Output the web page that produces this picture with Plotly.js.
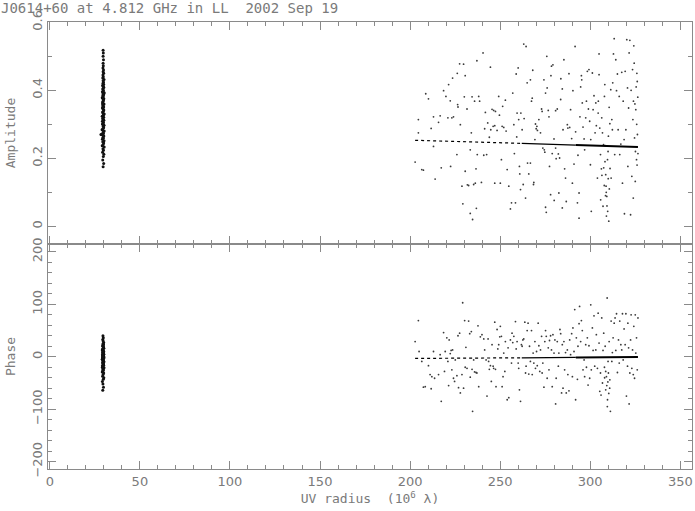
<!DOCTYPE html>
<html>
<head>
<meta charset="utf-8">
<script src="https://cdn.plot.ly/plotly-3.0.1.min.js"></script>
<style>html,body{margin:0;padding:0;background:#fff;}#chart{width:695px;height:511px;}</style>
</head>
<body>
<div id="chart"></div>
<script>
// ---------- DATA ----------
var titleText = "J0614+60 at 4.812 GHz in LL\u00A0\u00A02002 Sep 19";
var xTitle = "UV radius\u00A0\u00A0(10<sup>6</sup> \u03BB)";

// short-baseline cluster, amplitude
var shortAmpUV = [29.6,29.9,29.4,29.7,30.0,29.3,29.8,29.5,30.2,29.1,29.6,29.9,29.4,30.1,29.2,29.7,29.5,30.0,28.4,28.8,29.3,29.8,29.6,30.2,29.0,29.4,29.9,29.7,30.1,29.3,29.5,29.8,29.2,30.0,29.6,29.4,29.9,29.1,29.7,30.2,29.5,29.3,29.8,30.0,29.6,29.2,29.9,29.4,29.7,30.1,29.5,29.3,29.8,29.6,30.0,29.1,29.7,29.4,29.9,29.5,30.2,29.2,29.8,29.6,29.4,30.0,29.7,29.3,29.9,29.5,29.8,29.6,30.1,29.4,29.7,29.5,29.9,29.6,29.8,29.5,29.7,29.6,29.8,29.6,29.7,29.6,29.5,29.9,29.3,30.0];
var shortAmp = [0.175,0.185,0.195,0.205,0.212,0.218,0.224,0.228,0.233,0.237,0.241,0.245,0.249,0.252,0.256,0.259,0.262,0.266,0.270,0.270,0.270,0.273,0.277,0.280,0.284,0.287,0.290,0.294,0.297,0.300,0.303,0.306,0.309,0.312,0.315,0.318,0.321,0.324,0.327,0.330,0.333,0.336,0.339,0.342,0.345,0.348,0.351,0.354,0.357,0.360,0.363,0.366,0.369,0.372,0.375,0.378,0.381,0.384,0.387,0.390,0.393,0.396,0.399,0.402,0.405,0.408,0.411,0.414,0.417,0.420,0.424,0.428,0.432,0.436,0.440,0.445,0.450,0.455,0.460,0.466,0.472,0.480,0.490,0.500,0.510,0.518,0.300,0.330,0.360,0.390];

// long-baseline amplitudes
var longAmpUV = [204.6,204.6,202.8,206.5,207.4,208.7,210.2,211.7,213.0,213.9,213.0,215.8,216.7,217.3,218.6,219.9,221.0,221.4,222.3,222.5,223.2,223.6,224.1,226.0,226.2,226.4,226.6,227.5,227.9,228.8,229.3,229.7,230.1,230.6,230.6,231.6,231.8,232.5,233.4,233.4,234.0,234.4,234.7,235.3,235.8,236.2,236.6,236.8,237.1,237.3,238.1,238.6,239.6,240.5,240.9,241.4,241.8,242.5,243.1,244.0,244.6,244.8,245.5,246.1,246.4,247.0,247.0,247.4,248.3,249.2,249.6,250.1,250.7,251.1,251.4,252.0,252.9,253.3,253.9,254.8,255.7,256.3,257.0,257.6,257.9,258.5,258.9,259.2,259.4,260.0,260.3,260.7,260.9,261.3,261.5,262.2,262.8,263.1,263.3,264.1,264.4,265.0,265.2,265.9,266.8,266.8,267.4,267.8,268.1,268.5,268.7,269.3,269.6,270.0,270.4,270.7,271.5,272.4,273.0,273.3,273.7,274.3,274.5,274.8,275.2,275.2,275.6,275.9,276.1,276.7,277.1,277.4,278.0,278.2,278.5,278.9,279.3,279.9,280.0,280.8,280.8,281.1,281.7,282.3,282.6,283.0,283.6,283.7,284.5,284.5,284.9,285.4,285.8,286.3,286.7,287.3,287.6,288.2,288.6,289.1,289.7,290.1,290.4,291.0,291.6,291.9,292.9,293.2,293.8,293.8,294.3,294.7,295.1,295.3,295.6,296.0,296.6,296.9,297.5,297.9,298.4,299.0,299.3,299.7,300.1,300.3,300.6,301.2,301.6,302.1,302.7,303.1,303.4,304.0,304.4,304.5,304.9,304.9,305.3,305.7,305.8,306.2,306.4,306.8,307.1,307.5,307.9,308.1,308.3,308.6,308.8,309.2,309.6,309.7,310.1,310.3,310.5,310.9,311.4,311.6,312.0,312.3,312.5,312.9,313.3,313.6,314.2,314.6,315.1,315.5,316.1,316.4,317.0,317.5,317.9,318.3,318.8,319.0,319.4,319.8,320.3,320.7,320.9,321.3,321.6,322.0,322.4,322.7,323.1,323.5,323.7,323.9,324.0,324.2,324.4,324.6,325.0,325.3,325.7,326.1,326.5,306.5,307.8,308.9,309.3,310.0,308.2,309.9,307.4,311.0,308.5,309.0,310.6,325.8,326.2,325.1,326.4,325.5,324.8,326.0,325.9];
var longAmp = [0.314,0.275,0.189,0.167,0.165,0.390,0.375,0.288,0.322,0.139,0.235,0.306,0.325,0.172,0.399,0.382,0.319,0.417,0.369,0.176,0.319,0.436,0.322,0.211,0.450,0.358,0.351,0.478,0.299,0.118,0.066,0.477,0.381,0.162,0.443,0.345,0.122,0.120,0.038,0.225,0.275,0.381,0.020,0.123,0.368,0.127,0.169,0.053,0.487,0.211,0.382,0.368,0.129,0.510,0.209,0.287,0.335,0.211,0.304,0.262,0.468,0.284,0.344,0.294,0.341,0.296,0.127,0.338,0.282,0.382,0.327,0.127,0.196,0.294,0.353,0.291,0.371,0.280,0.167,0.118,0.051,0.069,0.392,0.299,0.214,0.069,0.448,0.263,0.333,0.466,0.314,0.176,0.154,0.108,0.333,0.284,0.123,0.536,0.317,0.083,0.529,0.422,0.186,0.154,0.431,0.186,0.368,0.377,0.459,0.123,0.129,0.255,0.301,0.287,0.294,0.282,0.314,0.275,0.345,0.338,0.230,0.431,0.225,0.218,0.392,0.056,0.041,0.500,0.407,0.341,0.322,0.176,0.093,0.443,0.471,0.214,0.475,0.257,0.076,0.340,0.230,0.199,0.345,0.213,0.098,0.201,0.373,0.434,0.054,0.404,0.284,0.490,0.169,0.142,0.073,0.299,0.289,0.449,0.291,0.343,0.258,0.127,0.399,0.183,0.529,0.278,0.069,0.209,0.024,0.098,0.322,0.410,0.443,0.431,0.363,0.292,0.257,0.225,0.319,0.368,0.456,0.345,0.461,0.309,0.181,0.255,0.044,0.451,0.343,0.384,0.275,0.363,0.296,0.142,0.333,0.368,0.507,0.446,0.289,0.211,0.078,0.169,0.319,0.275,0.059,0.172,0.382,0.417,0.237,0.152,0.118,0.088,0.196,0.044,0.265,0.015,0.350,0.302,0.402,0.142,0.314,0.284,0.422,0.507,0.552,0.211,0.490,0.399,0.448,0.284,0.382,0.211,0.242,0.453,0.127,0.368,0.255,0.037,0.456,0.284,0.549,0.407,0.176,0.348,0.510,0.547,0.034,0.400,0.147,0.461,0.314,0.083,0.368,0.531,0.480,0.260,0.132,0.343,0.196,0.426,0.214,0.15,0.12,0.10,0.06,0.14,0.19,0.22,0.24,0.17,0.09,0.03,0.11,0.30,0.27,0.22,0.38,0.41,0.36,0.18,0.45];

// short-baseline cluster, phase (degrees)
var shortPhUV = [29.4,29.8,29.5,29.2,29.7,30.0,29.3,29.6,29.9,29.1,29.5,29.8,29.4,30.1,29.6,29.2,29.9,29.5,29.7,29.3,30.0,29.6,29.4,29.8,29.1,29.7,29.5,30.1,29.3,29.6,29.9,29.4,29.7,29.2,30.0,29.5,29.8,29.3,29.6,29.9,29.4,29.7,29.1,29.5,30.0,29.8,29.6,29.3,29.7,29.5,29.9,29.6,29.4,29.7,29.5,29.2,29.8,30.0,29.4,29.6,29.9,29.3,29.7,29.5,29.8,29.6,29.4];
var shortPh = [-64,-58,-52,-47,-43,-40,-37,-34,-31,-29,-27,-25,-23,-21,-19,-17,-16,-14,-13,-11,-10,-8,-7,-6,-5,-4,-3,-2,-1,0,1,2,3,4,5,6,7,8,9,10,11,12,13,14,16,17,19,21,23,25,27,30,33,36,40,-20,-15,-9,-3,3,9,15,20,-26,24,-12,0];

// long-baseline phases (degrees)
var longPhUV = [202.8,204.6,205.0,206.5,207.4,208.4,210.2,211.1,211.7,212.1,213.0,213.6,215.8,216.7,217.3,218.6,219.1,219.5,220.4,221.0,221.4,221.7,222.3,222.8,223.2,223.6,224.1,224.7,225.1,226.0,226.6,226.9,227.5,227.9,228.8,229.2,229.7,230.3,230.6,231.0,231.6,232.5,233.1,233.4,234.0,234.4,234.7,235.3,235.8,236.6,237.1,237.7,238.1,239.0,239.9,240.9,241.4,242.2,242.7,243.3,243.6,244.0,244.6,245.1,245.5,246.1,246.4,247.0,247.4,247.7,248.3,248.7,249.2,249.8,250.1,250.7,251.1,251.6,252.0,252.6,252.9,253.9,254.4,254.8,255.7,256.3,256.6,257.0,257.6,258.5,258.9,259.4,260.0,260.3,260.7,261.3,261.8,262.2,262.6,263.1,263.7,264.1,264.4,265.0,265.5,265.9,266.3,266.8,267.4,267.8,268.3,268.7,269.3,269.6,270.2,270.6,271.1,271.5,272.0,272.4,273.0,273.3,273.7,274.3,274.8,275.2,275.6,276.1,276.7,277.1,277.4,278.0,278.5,278.9,279.3,279.9,280.4,280.8,281.1,281.7,282.3,282.6,283.2,283.6,284.1,284.5,284.9,285.4,285.8,286.3,286.7,287.3,287.6,288.2,288.6,289.1,289.7,290.1,290.4,291.0,291.4,291.9,292.3,292.9,293.2,293.8,294.1,294.7,295.1,295.6,296.0,296.6,296.9,297.5,297.9,298.4,298.8,299.3,299.7,300.3,300.6,301.2,301.6,302.1,302.5,303.1,303.4,304.0,304.4,304.9,305.3,305.7,306.0,306.4,306.8,307.1,307.5,307.9,308.3,308.6,309.0,309.4,309.6,309.9,310.1,310.5,310.9,311.2,311.6,312.0,312.3,312.7,313.3,313.8,314.2,314.6,315.1,315.7,316.1,316.4,317.0,317.5,317.9,318.3,318.8,319.4,319.8,320.1,320.7,320.9,321.3,321.6,322.0,322.4,322.7,323.1,323.5,323.9,324.2,324.6,325.0,325.3,325.7,326.1,326.5,308.0,309.2,310.3,309.8,308.6,310.8,309.5];
var longPh = [29,69,10,-9,-58,-57,-17,-34,-61,-38,10,-41,-34,4,-85,46,-28,10,36,-9,-55,32,6,12,-25,13,-41,-47,-6,-36,40,-59,45,-69,-34,103,-60,69,-20,18,-22,68,44,-39,48,-24,-104,-6,-29,-30,-31,59,-57,38,42,34,13,-6,-75,34,-9,-24,-17,-47,23,-18,-22,66,-24,-57,52,15,23,38,58,39,-57,-38,7,-28,29,-82,17,-78,32,-12,45,27,39,67,15,29,-12,-22,-63,-85,23,20,32,34,66,-31,-18,50,64,-33,20,-9,50,-34,7,-12,29,-22,10,-17,64,21,-28,13,39,-31,-12,-58,29,50,39,-41,17,-25,31,40,13,-57,42,7,32,-90,-41,29,-18,7,52,44,-69,23,-60,29,-25,8,-69,13,-34,-65,32,4,44,-38,55,10,90,-82,36,-43,20,63,96,29,69,50,-25,-6,-38,23,-20,36,-54,21,-41,99,-25,55,12,78,-18,13,42,-22,83,26,-66,-31,-73,74,-50,12,45,-20,20,-63,-38,112,-82,-9,-31,29,-44,-104,68,-9,8,36,64,74,12,82,-30,32,-12,68,23,13,82,-6,53,23,82,-75,-18,64,17,-90,-31,32,80,-22,13,-34,58,-41,80,7,36,-25,74,-40,-55,-70,-48,-28,-60,-95];

// model (fitted) values along the long baselines
var modelUV    = [202.8, 262.0, 292.0, 326.5];
var modelAmp   = [0.253, 0.244, 0.239, 0.233];
var modelPhase = [-3.2, -2.0, -1.2, -0.6];

// ---------- STYLE ----------
var grey = '#8a8a8a';
var txt = '#7a7a7a';
var fam = 'DejaVu Sans Mono, monospace';
var font = {family: fam, size: 13, color: txt};
var tickFont = {family: 'DejaVu Sans, sans-serif', size: 13, color: txt};
var dot = {size: 1.8, color: '#3a3a3a'};
var dotDense = {size: 3, color: '#111'};

function pts(x, y, ya, mk) {
  return {type: 'scatter', mode: 'markers', x: x, y: y, xaxis: ya === 'y' ? 'x2' : 'x', yaxis: ya,
          marker: mk, hoverinfo: 'skip', showlegend: false};
}
function model(x, y, ya, dash, w) {
  return {type: 'scatter', mode: 'lines', x: x, y: y, xaxis: ya === 'y' ? 'x2' : 'x', yaxis: ya,
          line: {color: '#000', width: w, dash: dash}, hoverinfo: 'skip', showlegend: false};
}

var data = [
  pts(shortAmpUV, shortAmp, 'y', dotDense),
  pts(longAmpUV, longAmp, 'y', dot),
  model(modelUV.slice(0, 2), modelAmp.slice(0, 2), 'y', 'dot', 1.2),
  model(modelUV.slice(1, 3), modelAmp.slice(1, 3), 'y', 'solid', 1.2),
  model(modelUV.slice(2, 4), modelAmp.slice(2, 4), 'y', 'solid', 2),
  pts(shortPhUV, shortPh, 'y2', dotDense),
  pts(longPhUV, longPh, 'y2', dot),
  model(modelUV.slice(0, 2), modelPhase.slice(0, 2), 'y2', 'dot', 1.2),
  model(modelUV.slice(1, 3), modelPhase.slice(1, 3), 'y2', 'solid', 1.2),
  model(modelUV.slice(2, 4), modelPhase.slice(2, 4), 'y2', 'solid', 2)
];

var axCommon = {
  showline: true, linecolor: grey, linewidth: 1, mirror: 'ticks',
  ticks: 'inside', tickcolor: grey, tickwidth: 1,
  showgrid: false, zeroline: false, tickfont: tickFont, automargin: false
};
var xMinor = {dtick: 10, ticklen: 4, tickcolor: grey, ticks: 'inside', showgrid: false};

var split = 0.5034;
var layout = {
  width: 695, height: 511,
  margin: {l: 48, r: 3, t: 22, b: 42, pad: 0},
  paper_bgcolor: '#fff', plot_bgcolor: '#fff',
  font: font,
  title: {text: titleText, font: {family: fam, size: 14, color: txt},
          x: 0, xref: 'container', xanchor: 'left', y: 0.994, yref: 'container', yanchor: 'top',
          pad: {t: 0, l: 1}},
  xaxis: Object.assign({}, axCommon, {domain: [0, 1], anchor: 'y2', range: [-1, 356.5],
          tick0: 0, dtick: 50, ticklen: 8, minor: xMinor,
          title: {text: xTitle, font: font, standoff: 6}}),
  xaxis2: Object.assign({}, axCommon, {domain: [0, 1], anchor: 'y', matches: 'x', range: [-1, 356.5],
          tick0: 0, dtick: 50, ticklen: 8, minor: xMinor, showticklabels: false}),
  yaxis: Object.assign({}, axCommon, {domain: [split, 1], anchor: 'x2', range: [-0.052, 0.601],
          tick0: 0, dtick: 0.2, ticklen: 8, tickangle: -90,
          minor: {dtick: 0.1, ticklen: 4, tickcolor: grey, ticks: 'inside', showgrid: false},
          title: {text: 'Amplitude', font: font, standoff: 11}}),
  yaxis2: Object.assign({}, axCommon, {domain: [0, split], anchor: 'x', range: [-214, 215],
          tick0: 0, dtick: 100, ticklen: 8, tickangle: -90,
          minor: {dtick: 20, ticklen: 4, tickcolor: grey, ticks: 'inside', showgrid: false},
          title: {text: 'Phase', font: font, standoff: 11}})
};

Plotly.newPlot('chart', data, layout, {staticPlot: true, displayModeBar: false});
</script>
</body>
</html>
